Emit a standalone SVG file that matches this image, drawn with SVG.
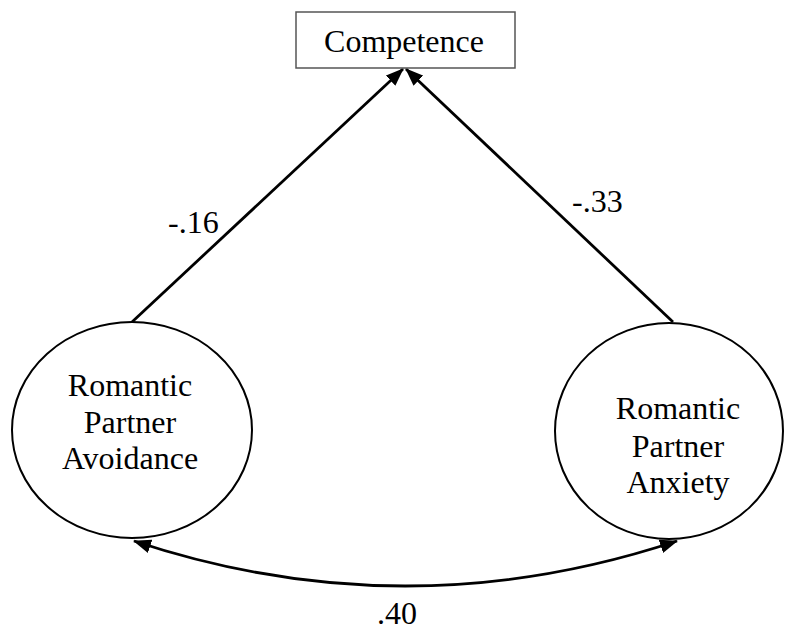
<svg xmlns="http://www.w3.org/2000/svg" width="786" height="631" viewBox="0 0 786 631">
  <style>
    .lbl { font-family: "Liberation Serif", "Times New Roman", serif; font-size: 32px; fill: #000; }
    .mid { text-anchor: middle; }
    .box { fill: #fff; stroke: #555; stroke-width: 1.5; }
    .latent { fill: #fff; stroke: #000; stroke-width: 2; }
    .path { fill: none; stroke: #000; stroke-width: 2.8; }
  </style>
  <defs>
    <marker id="arrow" viewBox="0 0 18 14" refX="17" refY="7" markerUnits="userSpaceOnUse" markerWidth="18" markerHeight="14" orient="auto-start-reverse">
      <path d="M0,0 L18,7 L0,14 Z" fill="#000"/>
    </marker>
  </defs>

  <g id="connectors">
    <line class="path" x1="132" y1="322" x2="403" y2="69" marker-end="url(#arrow)"/>
    <line class="path" x1="673" y1="322" x2="406" y2="69" marker-end="url(#arrow)"/>
    <path class="path" d="M134,541 Q405,631 677,541" marker-start="url(#arrow)" marker-end="url(#arrow)"/>
    <text class="lbl" x="168" y="233">-.16</text>
    <text class="lbl" x="572" y="212">-.33</text>
    <text class="lbl" x="377" y="624">.40</text>
  </g>

  <g id="competence">
    <rect class="box" x="296" y="12" width="219" height="56"/>
    <text class="lbl mid" x="404" y="52">Competence</text>
  </g>

  <g id="avoidance">
    <ellipse class="latent" cx="132" cy="430" rx="120" ry="108"/>
    <text class="lbl mid" x="130" y="396">Romantic</text>
    <text class="lbl mid" x="130" y="433">Partner</text>
    <text class="lbl mid" x="130" y="469">Avoidance</text>
  </g>

  <g id="anxiety">
    <ellipse class="latent" cx="669" cy="431" rx="114" ry="108"/>
    <text class="lbl mid" x="678" y="419">Romantic</text>
    <text class="lbl mid" x="678" y="457">Partner</text>
    <text class="lbl mid" x="678" y="493">Anxiety</text>
  </g>
</svg>
